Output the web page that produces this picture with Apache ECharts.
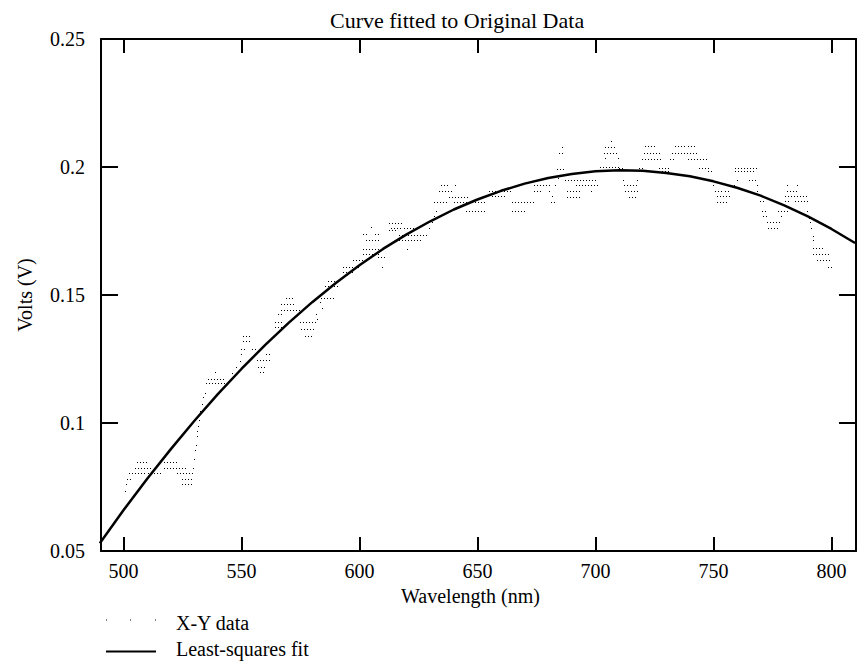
<!DOCTYPE html>
<html>
<head>
<meta charset="utf-8">
<script src="https://cdn.jsdelivr.net/npm/echarts@6/dist/echarts.min.js"></script>
<style>
html,body{margin:0;padding:0;background:#fff;}
#c{width:858px;height:666px;}
</style>
</head>
<body>
<div id="c"></div>
<script>
// ---- values ----
const xTickValues = [500, 550, 600, 650, 700, 750, 800];

// Least-squares fit curve (wavelength nm, volts)
const fitWl = [490,500,510,520,530,540,550,560,570,580,590,600,610,620,630,640,650,660,670,680,690,700,710,720,730,740,750,760,770,780,790,800,810];
const fitV = [0.0530,0.0659,0.0781,0.0897,0.1008,0.1113,0.1211,0.1304,0.1391,0.1472,0.1547,0.1616,0.1680,0.1737,0.1788,0.1834,0.1873,0.1907,0.1935,0.1957,0.1973,0.1983,0.1987,0.1985,0.1977,0.1964,0.1944,0.1919,0.1888,0.1850,0.1807,0.1758,0.1703];

// X-Y data: runs of readings at one quantized voltage level [from nm, to nm, volts]
const xyDataRows = [
  // 500-535 nm
  [500.7,500.7,0.0734],[501.0,501.0,0.0760],[501.4,502.8,0.0780],[502.5,509.0,0.0806],[505.0,512.0,0.0826],
  [505.7,510.5,0.0848],[510.5,515.5,0.0806],[517.0,523.0,0.0848],[517.0,527.0,0.0826],[522.7,529.0,0.0806],
  [525.0,529.0,0.0780],[525.0,528.6,0.0762],[529.6,529.6,0.0826],[530.0,530.0,0.0860],[530.3,530.3,0.0895],
  [530.6,530.6,0.0915],[531.0,531.0,0.0950],[531.3,531.3,0.0970],[531.7,531.7,0.0989],[532.1,532.1,0.1010],
  [532.6,532.6,0.1048],[533.2,533.2,0.1075],[533.8,533.8,0.1100],[534.5,534.5,0.1119],
  // 535-567 nm
  [535.9,543.0,0.1172],[535.2,543.7,0.1155],[538.7,538.7,0.1200],[545.8,545.8,0.1197],[547.5,547.5,0.1217],
  [549.3,549.3,0.1243],[550.0,550.0,0.1270],[550.0,552.1,0.1289],[550.7,553.5,0.1341],[550.7,553.5,0.1322],
  [554.3,556.4,0.1289],[556.4,562.7,0.1246],[557.0,560.6,0.1220],[557.8,559.2,0.1200],[560.6,562.7,0.1270],
  [564.1,566.9,0.1374],[564.1,566.9,0.1393],[565.5,567.6,0.1426],
  // 567-600 nm
  [566.9,572.5,0.1463],[566.9,574.7,0.1442],[569.0,571.8,0.1489],[574.7,581.0,0.1393],[575.4,580.3,0.1367],
  [576.8,579.6,0.1341],[581.5,581.5,0.1426],[582.0,582.0,0.1405],[583.4,583.4,0.1472],[584.0,584.0,0.1450],
  [583.8,588.7,0.1489],[585.2,590.8,0.1537],[586.6,589.4,0.1554],[593.0,600.0,0.1609],[593.0,597.2,0.1589],
  [597.2,601.4,0.1638],
  // 600-630 nm
  [601.4,608.5,0.1681],[601.4,608.5,0.1661],[602.8,608.5,0.1713],[601.4,602.8,0.1739],[605.0,605.0,0.1765],
  [606.5,608.0,0.1739],[607.8,611.3,0.1650],[609.5,609.5,0.1609],[612.7,615.5,0.1752],[612.7,617.6,0.1783],
  [616.9,628.9,0.1736],[616.9,626.1,0.1713],[620.0,620.0,0.1680],[613.4,617.6,0.1763],[619.0,624.0,0.1763],
  // 630-655 nm
  [629.6,629.6,0.1763],[630.6,630.6,0.1787],[631.6,631.6,0.1808],[632.4,632.4,0.1830],[631.7,636.6,0.1863],
  [633.8,639.4,0.1905],[634.5,638.0,0.1931],[640.3,640.3,0.1931],[638.0,645.8,0.1883],[640.2,653.5,0.1863],
  [645.1,653.5,0.1830],
  // 655-687 nm
  [654.9,664.8,0.1905],[656.3,662.0,0.1885],[664.8,674.0,0.1863],[664.8,670.4,0.1830],[674.0,680.3,0.1931],
  [674.0,677.5,0.1905],[680.3,680.3,0.1905],[681.5,681.5,0.1885],[681.0,683.1,0.1863],[683.0,683.0,0.1931],
  [684.0,684.0,0.1957],[683.8,687.3,0.1994],[684.5,685.9,0.2053],[685.7,685.7,0.2080],
  // 687-712 nm
  [687.3,700.7,0.1948],[688.0,693.0,0.1905],[688.0,693.0,0.1883],[691.6,701.4,0.1931],[698.0,698.0,0.1905],
  [702.1,709.9,0.2000],[703.5,709.2,0.2053],[704.2,708.5,0.2078],[706.7,706.7,0.2100],[704.0,704.0,0.2035],
  [709.5,709.5,0.2035],
  // 710-750 nm
  [709.9,712.0,0.1996],[711.5,711.5,0.1950],[712.0,717.6,0.1931],[712.7,717.6,0.1905],[714.1,717.0,0.1883],
  [717.6,717.6,0.1950],[718.5,719.9,0.1996],[720.5,726.9,0.2053],[721.2,725.4,0.2081],[719.9,727.5,0.2033],
  [726.8,731.7,0.1996],[728.2,731.0,0.1984],[732.4,743.0,0.2053],[733.8,738.1,0.2081],[739.4,742.3,0.2081],
  [731.7,733.8,0.2033],[739.4,747.2,0.2033],[743.7,748.6,0.1996],[747.5,749.0,0.1984],[748.9,748.9,0.1950],
  [750.0,750.0,0.1931],
  // 750-770 nm
  [750.7,753.5,0.1905],[751.4,757.1,0.1885],[751.4,756.3,0.1863],[754.9,757.1,0.1905],[757.5,758.5,0.1931],
  [759.2,768.3,0.1996],[759.2,767.6,0.1984],[759.8,759.8,0.1950],[765.0,768.3,0.1950],[768.3,768.3,0.1931],
  [768.3,768.3,0.1905],
  // 770-800 nm
  [769.7,771.8,0.1866],[770.4,771.8,0.1830],[771.0,773.0,0.1810],[772.5,778.2,0.1785],[773.2,777.5,0.1763],
  [777.5,781.0,0.1830],[778.5,779.5,0.1810],[780.3,790.2,0.1885],[781.0,786.0,0.1905],[781.0,781.0,0.1931],
  [785.2,785.2,0.1931],[780.5,781.5,0.1866],[784.5,790.2,0.1866],[789.5,790.2,0.1830],[790.5,790.5,0.1800],
  [791.0,791.0,0.1785],[791.4,791.4,0.1763],[792.0,792.0,0.1730],[792.3,792.3,0.1713],[792.3,795.8,0.1683],
  [792.3,798.6,0.1661],[793.7,800.0,0.1638],[798.6,800.0,0.1611]
];

// ---- chart ----
const FONT = 'Liberation Serif, Times New Roman, serif';
const chart = echarts.init(document.getElementById('c'), null, {renderer: 'svg'});

const fitData = fitWl.map((w, i) => [w, fitV[i]]);

const axisLineStyle = {color: '#000', width: 2};

chart.setOption({
  animation: false,
  backgroundColor: '#fff',
  title: {
    text: 'Curve fitted to Original Data',
    left: 330, top: 9, padding: 0,
    textStyle: {fontFamily: FONT, fontSize: 22, fontWeight: 'normal', color: '#000'}
  },
  grid: {left: 101, right: 2, top: 39, bottom: 115, containLabel: false, outerBoundsMode: 'none'},
  legend: {
    left: 101, top: 608, orient: 'vertical',
    itemWidth: 50, itemHeight: 14, itemGap: 6,
    selectedMode: false,
    itemStyle: {borderWidth: 0},
    textStyle: {fontFamily: FONT, fontSize: 20, color: '#000', padding: [0, 0, 0, 15]},
    data: [
      {name: 'X-Y data', icon: 'path://M0 0h1v1H0zM24 0h1v1h-1zM49 0h1v1h-1zM0 7h0'},
      {name: 'Least-squares fit', icon: 'path://M0 5h50v2H0zM0 0h0'}
    ]
  },
  xAxis: [
    {
      type: 'value', position: 'bottom', min: 490.5, max: 810.4,
      name: 'Wavelength (nm)', nameLocation: 'middle', nameGap: 24,
      nameTextStyle: {fontFamily: FONT, fontSize: 20, color: '#000', padding: [0, 16, 0, 0]},
      axisLine: {show: true, onZero: false, lineStyle: axisLineStyle},
      axisTick: {show: true, inside: true, length: 14, lineStyle: axisLineStyle, customValues: xTickValues},
      axisLabel: {show: true, margin: 10, fontFamily: FONT, fontSize: 20, color: '#000', customValues: xTickValues},
      splitLine: {show: false}
    },
    {
      type: 'value', position: 'top', min: 490.5, max: 810.4,
      axisLine: {show: true, onZero: false, lineStyle: axisLineStyle},
      axisTick: {show: true, inside: true, length: 14, lineStyle: axisLineStyle, customValues: xTickValues},
      axisLabel: {show: false, customValues: xTickValues},
      splitLine: {show: false}
    }
  ],
  yAxis: [
    {
      type: 'value', position: 'left', min: 0.05, max: 0.25, interval: 0.05,
      name: 'Volts (V)', nameLocation: 'middle', nameGap: 66, nameRotate: 90,
      nameTextStyle: {fontFamily: FONT, fontSize: 20, color: '#000'},
      axisLine: {show: true, onZero: false, lineStyle: axisLineStyle},
      axisTick: {show: true, inside: true, length: 17, lineStyle: axisLineStyle},
      axisLabel: {show: true, margin: 16, fontFamily: FONT, fontSize: 20, color: '#000'},
      splitLine: {show: false}
    },
    {
      type: 'value', position: 'right', min: 0.05, max: 0.25, interval: 0.05,
      axisLine: {show: true, onZero: false, lineStyle: axisLineStyle},
      axisTick: {show: true, inside: true, length: 17, lineStyle: axisLineStyle},
      axisLabel: {show: false},
      splitLine: {show: false}
    }
  ],
  series: [
    {
      name: 'X-Y data',
      type: 'custom',
      coordinateSystem: 'cartesian2d',
      xAxisIndex: 0, yAxisIndex: 0,
      encode: {x: [0, 1], y: 2},
      data: xyDataRows,
      itemStyle: {color: '#000'},
      silent: true,
      clip: true,
      z: 2,
      renderItem: function (params, api) {
        const a = api.coord([api.value(0), api.value(2)]);
        const b = api.coord([api.value(1), api.value(2)]);
        const y = Math.round(a[1]) + 0.5;
        const x1 = Math.round(a[0]);
        const x2 = Math.max(Math.round(b[0]), x1) + 1;
        return {
          type: 'line',
          shape: {x1: x1, y1: y, x2: x2, y2: y},
          style: {stroke: '#000', lineWidth: 1, lineDash: [1, 2]}
        };
      }
    },
    {
      name: 'Least-squares fit',
      type: 'line',
      xAxisIndex: 0, yAxisIndex: 0,
      data: fitData,
      symbol: 'none',
      showSymbol: false,
      itemStyle: {color: '#000'},
      lineStyle: {color: '#000', width: 2.5},
      silent: true,
      z: 3
    }
  ]
});
</script>
</body>
</html>
